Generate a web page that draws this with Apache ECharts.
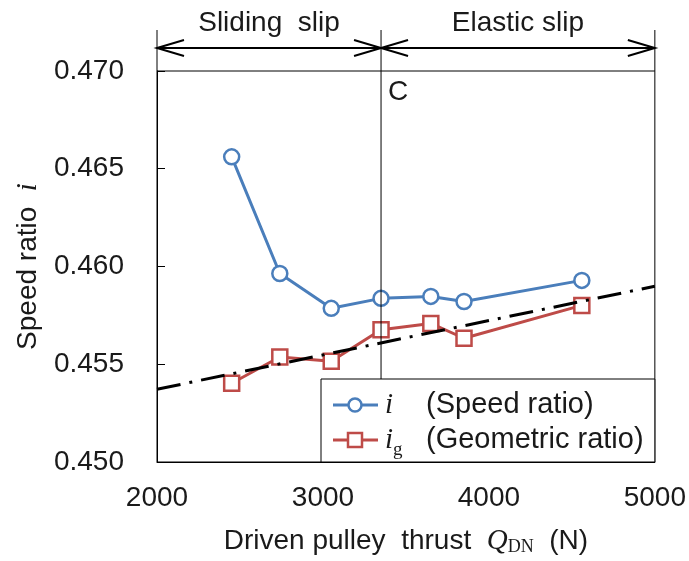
<!DOCTYPE html>
<html><head><meta charset="utf-8">
<script src="https://cdn.jsdelivr.net/npm/echarts@6/dist/echarts.min.js"></script>
<style>html,body{margin:0;padding:0;background:#fff}#main{width:689px;height:561px}</style>
</head><body><div id="main"></div>
<script>
// Driven pulley thrust (N) at each measurement
const thrust = [2450, 2740, 3050, 3350, 3650, 3850, 4560];
// Measured speed ratio i
const speedRatio = [0.46561, 0.45964, 0.45786, 0.45837, 0.45847, 0.45821, 0.45929];
// Geometric ratio i_g
const geometricRatio = [0.45403, 0.45537, 0.45515, 0.45677, 0.45709, 0.45633, 0.45801];
// Linear trend of the geometric ratio (dash-dot)
const trendThrust = [2000, 5000];
const trendRatio = [0.45372, 0.45899];
// Boundary between sliding slip and elastic slip (point C)
const boundaryThrust = 3350;
// Axis ranges / tick steps
const xRange = [2000, 5000], xStep = 1000;
const yRange = [0.450, 0.470], yStep = 0.005;

const FONT = '"Liberation Sans", Arial, sans-serif';
const SERIF = '"Liberation Serif", "Times New Roman", serif';
const INK = '#1a1a1a';
const BLUE = '#4a7ebb';
const RED = '#be4b48';
const FS = 28;

const pairs = (xs, ys) => xs.map((x, k) => [x, ys[k]]);

const chart = echarts.init(document.getElementById('main'), null, {renderer: 'canvas'});

const option = {
  animation: false,
  backgroundColor: '#fff',
  grid: {left: 157, right: 34, top: 71, bottom: 99, show: true, borderColor: '#000', borderWidth: 1, containLabel: false},
  xAxis: {
    type: 'value', min: xRange[0], max: xRange[1], interval: xStep,
    axisLine: {show: true, lineStyle: {color: '#000', width: 1}},
    axisTick: {show: false},
    splitLine: {show: false},
    axisLabel: {fontFamily: FONT, fontSize: FS, color: INK, margin: 22, formatter: v => String(v)},
    name: '{t|Driven pulley  thrust  }{q|Q}{s|DN}{t|  (N)}',
    nameLocation: 'middle', nameGap: 64,
    nameTextStyle: {
      rich: {
        t: {fontFamily: FONT, fontSize: FS, color: INK},
        q: {fontFamily: SERIF, fontStyle: 'italic', fontSize: 29, color: INK},
        s: {fontFamily: SERIF, fontSize: 18, color: INK, verticalAlign: 'bottom', padding: [12, 0, 0, 0]}
      }
    }
  },
  yAxis: {
    type: 'value', min: yRange[0], max: yRange[1], interval: yStep,
    axisLine: {show: true, lineStyle: {color: '#000', width: 1}},
    axisTick: {show: true, inside: true, length: 8, lineStyle: {color: '#000'}},
    splitLine: {show: false},
    axisLabel: {fontFamily: FONT, fontSize: FS, color: INK, margin: 33, formatter: v => v.toFixed(3)},
    name: '{t|Speed ratio  }{i|i}',
    nameLocation: 'middle', nameGap: 114, nameRotate: 90,
    nameTextStyle: {
      rich: {
        t: {fontFamily: FONT, fontSize: FS, color: INK},
        i: {fontFamily: SERIF, fontStyle: 'italic', fontSize: 29, color: INK}
      }
    }
  },
  series: [
    {
      name: 'i', type: 'line', data: pairs(thrust, speedRatio), z: 3,
      symbol: 'circle', symbolSize: 15,
      lineStyle: {color: BLUE, width: 3},
      itemStyle: {color: '#fff', borderColor: BLUE, borderWidth: 2.5}
    },
    {
      name: 'ig', type: 'line', data: pairs(thrust, geometricRatio), z: 3,
      symbol: 'rect', symbolSize: 15,
      lineStyle: {color: RED, width: 3},
      itemStyle: {color: '#fff', borderColor: RED, borderWidth: 2.5}
    },
    {
      name: 'trend', type: 'line', data: pairs(trendThrust, trendRatio), z: 4,
      symbol: 'none', silent: true,
      lineStyle: {color: '#000', width: 3, type: [24, 9, 3, 9]}
    }
  ]
};
chart.setOption(option);

// Annotation above the plot and the legend box
const toPx = (x, y) => chart.convertToPixel({gridIndex: 0}, [x, y]);
const [xL, yT] = toPx(xRange[0], yRange[1]);
const [xR, yB] = toPx(xRange[1], yRange[0]);
const xC = toPx(boundaryThrust, yRange[1])[0];
const topY = 30, arrowY = 48, headL = 27, headH = 8;
const legTop = 379, legLeft = 321;
const row1 = 405, row2 = 440;

const line = (x1, y1, x2, y2, w, color) => ({
  type: 'line', shape: {x1, y1, x2, y2}, style: {stroke: color || '#000', lineWidth: w || 1}, z: 10
});
const head = (tipX, dir) => ({
  type: 'polyline', z: 10,
  shape: {points: [[tipX + dir * headL, arrowY - headH], [tipX, arrowY], [tipX + dir * headL, arrowY + headH]]},
  style: {stroke: '#000', lineWidth: 2, fill: null}
});
const txt = (x, y, text, opts) => Object.assign({
  type: 'text', x, y, z: 11,
  style: Object.assign({text, fontFamily: FONT, fontSize: FS, fill: INK, align: 'center', verticalAlign: 'middle'}, opts || {})
});

const graphics = [
  line(xL, topY, xL, yT), line(xR, topY, xR, yT), line(xC, topY, xC, legTop),
  line(xL, arrowY, xC, arrowY, 2), line(xC, arrowY, xR, arrowY, 2),
  head(xL, 1), head(xC, -1), head(xC, 1), head(xR, -1),
  txt((xL + xC) / 2, 23, 'Sliding  slip'),
  txt((xC + xR) / 2, 23, 'Elastic slip'),
  txt(xC + 7, 92, 'C', {align: 'left'}),
  // legend
  {type: 'rect', shape: {x: legLeft, y: legTop, width: xR - legLeft, height: yB - legTop}, style: {fill: '#fff', stroke: '#000', lineWidth: 1}, z: 10},
  line(333, row1, 378, row1, 3, BLUE),
  {type: 'circle', shape: {cx: 355, cy: row1, r: 6.5}, style: {fill: '#fff', stroke: BLUE, lineWidth: 2.5}, z: 11},
  line(333, row2, 378, row2, 3, RED),
  {type: 'rect', shape: {x: 348, y: row2 - 7, width: 14, height: 14}, style: {fill: '#fff', stroke: RED, lineWidth: 2.5}, z: 11},
  txt(385, row1, 'i', {align: 'left', fontFamily: SERIF, fontStyle: 'italic', fontSize: 29}),
  txt(385, row2, 'i', {align: 'left', fontFamily: SERIF, fontStyle: 'italic', fontSize: 29}),
  txt(393, row2 + 10, 'g', {align: 'left', fontFamily: SERIF, fontSize: 19}),
  txt(426, row1, '(Speed ratio)', {align: 'left', fontSize: 29}),
  txt(426, row2, '(Geometric ratio)', {align: 'left', fontSize: 29})
];
chart.setOption({graphic: {elements: graphics}});
</script>
</body></html>
